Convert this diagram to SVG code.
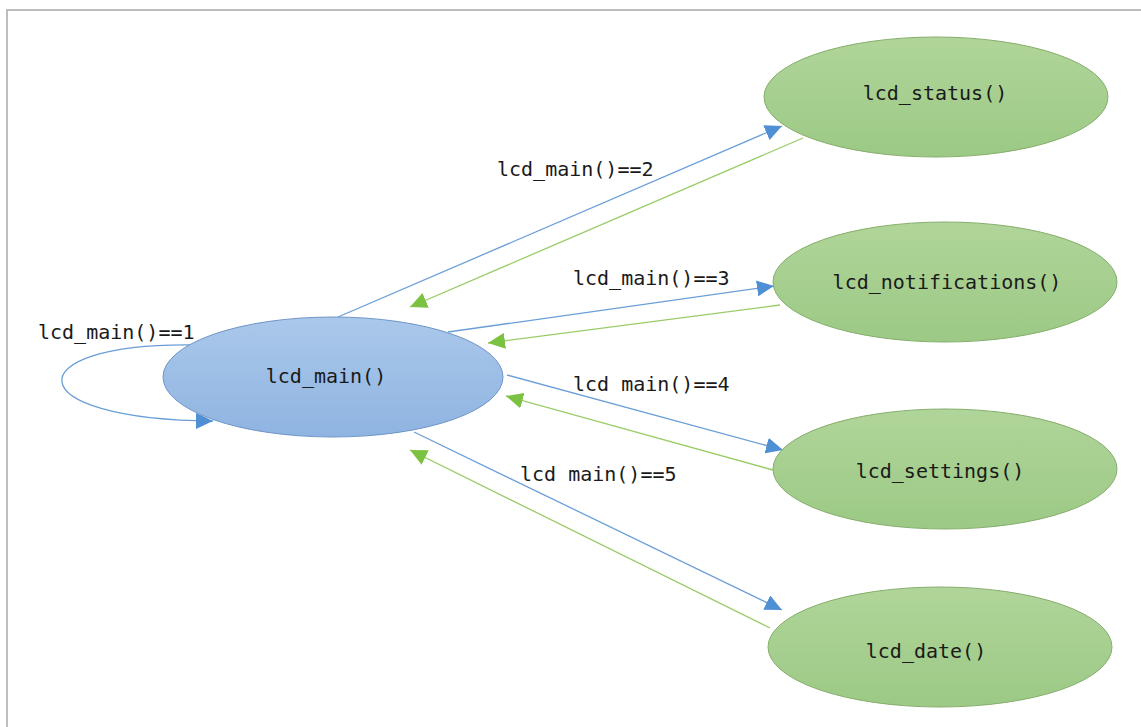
<svg xmlns="http://www.w3.org/2000/svg" width="1141" height="727" viewBox="0 0 1141 727">
  <defs>
    <linearGradient id="gradBlue" x1="0" y1="0" x2="0" y2="1">
      <stop offset="0" stop-color="#AAC8EA"/>
      <stop offset="1" stop-color="#8FB4E1"/>
    </linearGradient>
    <linearGradient id="gradGreen" x1="0" y1="0" x2="0" y2="1">
      <stop offset="0" stop-color="#B0D59A"/>
      <stop offset="1" stop-color="#9CC985"/>
    </linearGradient>
    <marker id="arrowBlue" markerUnits="userSpaceOnUse" markerWidth="18" markerHeight="16" refX="17" refY="8" orient="auto">
      <path d="M0,0 L17,8 L0,16 Z" fill="#4F8FD3"/>
    </marker>
    <marker id="arrowGreen" markerUnits="userSpaceOnUse" markerWidth="18" markerHeight="16" refX="17" refY="8" orient="auto">
      <path d="M0,0 L17,8 L0,16 Z" fill="#7CC242"/>
    </marker>
  </defs>
  <style>
    .frame { stroke: #BDBDBD; stroke-width: 2; fill: none; }
    .main { fill: url(#gradBlue); stroke: #6F95C8; stroke-width: 1; }
    .sub { fill: url(#gradGreen); stroke: #86AE6C; stroke-width: 1; }
    .label { font-family: "DejaVu Sans Mono", "Liberation Mono", monospace; font-size: 20px; fill: #1A1A1A; }
    .nodeText { text-anchor: middle; }
    .call { fill: none; stroke: #6A9ED8; stroke-width: 1.3; marker-end: url(#arrowBlue); }
    .ret { fill: none; stroke: #98CC66; stroke-width: 1.3; marker-end: url(#arrowGreen); }
  </style>

  <rect width="1141" height="727" fill="#FFFFFF"/>
  <!-- page frame: top and left edges only -->
  <path class="frame" d="M7,727 L7,10 L1141,10"/>

  <!-- connectors -->
  <g id="connectors">
    <path class="call" d="M192,345 C15,343 15,420 213,421"/>
    <path class="call" d="M338,317 L782,126"/>
    <path class="ret" d="M803,138 L410,307"/>
    <path class="call" d="M448,332 L774,286"/>
    <path class="ret" d="M780,305 L488,343"/>
    <path class="call" d="M507,375 L783,450"/>
    <path class="ret" d="M773,470 L506,396"/>
    <path class="call" d="M414,432 L782,610"/>
    <path class="ret" d="M770,628 L410,450"/>
  </g>

  <!-- edge labels -->
  <g id="edgeLabels" class="label">
    <text x="38" y="339">lcd_main()==1</text>
    <text x="497" y="176">lcd_main()==2</text>
    <text x="573" y="285">lcd_main()==3</text>
    <text x="573" y="391">lcd main()==4</text>
    <text x="520" y="481">lcd main()==5</text>
  </g>

  <g id="node-lcd_main">
    <ellipse class="main" cx="333" cy="377" rx="170" ry="60"/>
    <text class="label nodeText" x="326" y="383">lcd_main()</text>
  </g>
  <g id="node-lcd_status">
    <ellipse class="sub" cx="936" cy="97" rx="172" ry="60"/>
    <text class="label nodeText" x="935" y="100">lcd_status()</text>
  </g>
  <g id="node-lcd_notifications">
    <ellipse class="sub" cx="945" cy="282" rx="172" ry="60"/>
    <text class="label nodeText" x="947" y="289">lcd_notifications()</text>
  </g>
  <g id="node-lcd_settings">
    <ellipse class="sub" cx="945" cy="469" rx="172" ry="60"/>
    <text class="label nodeText" x="940" y="478">lcd_settings()</text>
  </g>
  <g id="node-lcd_date">
    <ellipse class="sub" cx="940" cy="647" rx="172" ry="60"/>
    <text class="label nodeText" x="926" y="658">lcd_date()</text>
  </g>
</svg>
